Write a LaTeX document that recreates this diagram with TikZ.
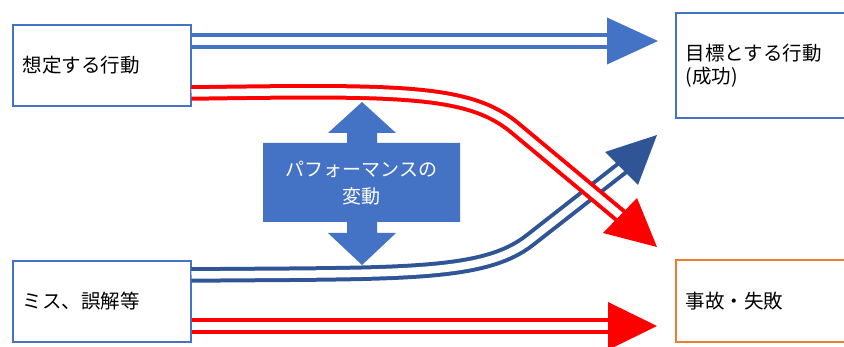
\documentclass[tikz,border=0pt]{standalone}
\usepackage{fontspec}
\setmainfont{Noto Sans CJK JP}
\usetikzlibrary{calc}
\definecolor{mblue}{HTML}{4472C4}
\definecolor{dblue}{HTML}{2F5597}
\definecolor{mred}{HTML}{FF0000}
\definecolor{morange}{HTML}{ED7D31}
\begin{document}
\begin{tikzpicture}[x=1pt,y=-1pt,
  box/.style={draw=mblue, line width=1.5pt, fill=white, inner xsep=10pt, inner ysep=0pt,
    minimum height=81pt, text width=158pt, align=left, anchor=west,
    font=\fontsize{19.5}{23}\selectfont},
  dbl/.style={line width=4pt, double=white, double distance=7.5pt, line join=round},
  vartext/.style={text=white, align=center, font=\fontsize{19}{27}\selectfont}
]
\useasboundingbox (0,0) rectangle (844,347);
\clip (0,0) rectangle (844,347);
\fill[white] (0,0) rectangle (844,347);

% boxes
\node[box] (a) at (12,65.5) {想定する行動};
\node[box] (m) at (12,301.5) {ミス、誤解等};
\node[box, minimum height=105pt, text width=175pt] (g) at (675,65.5) {目標とする行動\\(成功)};
\node[box, draw=morange, minimum height=82pt, text width=175pt] (f) at (675,301) {事故・失敗};

% performance variation shape
\fill[mblue] (362,102) -- (396,133) -- (377,133) -- (377,143) -- (460,143) -- (460,222)
  -- (377,222) -- (377,233) -- (396,233) -- (362,265) -- (328,233) -- (347,233)
  -- (347,222) -- (263,222) -- (263,143) -- (347,143) -- (347,133) -- (328,133) -- cycle;
\node[vartext] (v) at (361.5,183) {パフォーマンスの\\変動};

% top blue arrow
\coordinate (h1) at (658,41);
\draw[dbl, draw=mblue] ($(a.east)+(0,-24.5)$) -- (610,41);
\fill[mblue] (607,17.5) -- (h1) -- (607,64.5) -- cycle;

% bottom blue curve (mistake -> success)
\coordinate (h2) at (657,135);
\draw[dbl, draw=dblue] ($(m.east)+(0,-26.5)$) .. controls (400,273) and (483,277) .. (530,240) -- (624,166.5);
\fill[dblue] (605,152) -- (h2) -- (638,185) -- cycle;

% top red curve (intended -> failure)
\coordinate (h3) at (657,247);
\draw[dbl, draw=mred] ($(a.east)+(0,27.5)$) .. controls (400,90) and (469,89.6) .. (515,128) -- (622.5,217.5);
\fill[mred] (603,233) -- (h3) -- (637,198) -- cycle;

% bottom red arrow
\coordinate (h4) at (657,326);
\draw[dbl, draw=mred] ($(m.east)+(0,24.5)$) -- (611,326);
\fill[mred] (608,302) -- (h4) -- (608,350) -- cycle;
\end{tikzpicture}
\end{document}
